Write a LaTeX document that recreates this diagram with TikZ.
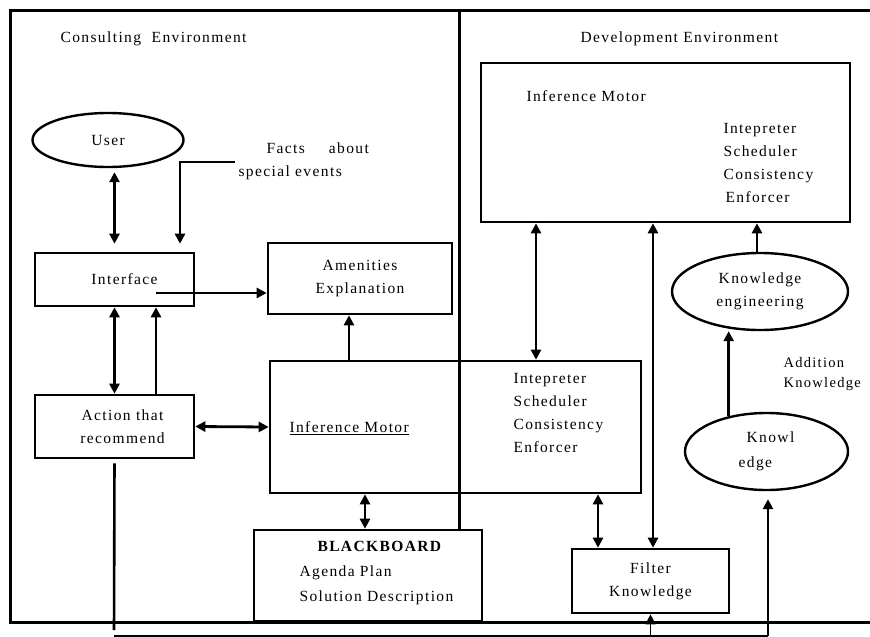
\documentclass[tikz,border=0pt]{standalone}
\usepackage{fontspec}
\setmainfont{Liberation Serif}[LetterSpace=9]
\usetikzlibrary{arrows.meta,shapes.geometric}
\begin{document}
\begin{tikzpicture}[x=1pt,y=-1pt,
	font=\fontsize{15.5}{23}\selectfont,
	box/.style={draw,line width=2.6pt,inner sep=0pt},
	oval/.style={draw,ellipse,line width=2.4pt,inner sep=0pt},
	tip/.style={Triangle[length=10pt,width=10pt]},
	arr/.style={line width=2.8pt,-{Triangle[length=10pt,width=10pt]}},
	dbl/.style={line width=2.8pt,{Triangle[length=10pt,width=10pt]}-{Triangle[length=10pt,width=10pt]}}]
	\useasboundingbox (0,0) rectangle (870,637);
	% the two environments
	\draw[line width=3pt](870,10)--(10,10)--(10,622)--(870,622);
	\draw[line width=3pt](459,10)--(459,530);
	\node[anchor=west] (cons) at (57,39) {Consulting\ \ Environment};
	\node[anchor=west] (devt) at (577,39) {Development Environment};
	% consulting side
	\node[oval,minimum width=151pt,minimum height=54pt] (user) at (108,140) {User};
	\node[anchor=north west,align=left] (facts) at (235,139) {\hspace*{28pt}Facts\hspace*{24pt}about\\special events};
	\node[box,minimum width=159pt,minimum height=53pt] (iface) at (114.5,279.5) {\hspace*{20pt}Interface};
	\node[box,minimum width=184pt,minimum height=71pt,align=center] (amen) at (360,278.5) {Amenities\\Explanation};
	\node[box,minimum width=159pt,minimum height=63pt,align=center] (act) at (114.5,426.5) {\hspace*{16pt}Action that\\\hspace*{16pt}recommend};
	\node[box,minimum width=371pt,minimum height=132pt] (infm) at (455.5,427) {};
	\node[anchor=west] (infml) at (286,428) {\underline{Inference Motor}};
	\node[anchor=north west,align=left] (infmt) at (510,370) {Intepreter\\Scheduler\\Consistency\\Enforcer};
	\node[box,minimum width=228pt,minimum height=91pt] (bb) at (368,575.5) {};
	\node[anchor=north west,align=left,font=\fontsize{15.5}{25}\selectfont] (bbt) at (296,538) {\hspace*{18pt}\textbf{BLACKBOARD}\\Agenda Plan\\Solution Description};
	% development side
	\node[box,minimum width=369pt,minimum height=159pt] (devm) at (665.5,142.5) {};
	\node[anchor=west] (devml) at (523,96) {Inference Motor};
	\node[anchor=north west,align=left] (devmt) at (720,120) {Intepreter\\Scheduler\\Consistency\\\hspace*{2pt}Enforcer};
	\node[oval,minimum width=176pt,minimum height=77pt,align=center] (keng) at (760,291.5) {Knowledge\\engineering};
	\node[oval,minimum width=163pt,minimum height=77pt,align=left] (know) at (766.5,451.5) {\hspace*{8pt}Knowl\\\raisebox{-2pt}{edge}};
	\node[anchor=west,align=left,font=\fontsize{14.5}{20}\selectfont] (addk) at (780,374) {Addition\\Knowledge};
	\node[box,minimum width=157pt,minimum height=64pt,align=center] (filt) at (650.5,581) {Filter\\Knowledge};
	% free ends
	\coordinate (factsin) at (235,162);
	\coordinate (ifout) at (156,293);
	\coordinate (botl) at (114,636);
	\coordinate (botr) at (768,636);
	% connectors
	\draw[dbl,shorten <=4pt,shorten >=8pt](iface.north |- user.south)--(iface.north);
	\draw[arr,shorten >=8pt](factsin)-|([xshift=65.5pt]iface.north);
	\draw[arr](ifout)--(ifout -| amen.west);
	\draw[dbl](iface.south)--(act.north);
	\draw[arr]([xshift=41.5pt]act.north)--([xshift=41.5pt]iface.south);
	\draw[dbl](act.east)--(infm.west);
	\draw[arr]([xshift=-106.5pt]infm.north)--([xshift=-106.5pt]infm.north |- amen.south);
	\draw[dbl]([xshift=-90.5pt]infm.south)--([xshift=-90.5pt]infm.south |- bb.north);
	\draw[dbl]([xshift=-129.5pt]devm.south)--([xshift=-129.5pt]devm.south |- infm.north);
	\draw[dbl]([xshift=-12.5pt]devm.south)--([xshift=-12.5pt]devm.south |- filt.north);
	\draw[dbl]([xshift=142.5pt]infm.south)--([xshift=142.5pt]infm.south |- filt.north);
	\draw[arr]([xshift=-3pt]keng.north)--([xshift=-3pt]keng.north |- devm.south);
	\draw[arr](know.137)--(know.137 |- keng.south);
	% line along the bottom
	\draw[line width=2.6pt,shorten <=4pt,shorten >=6pt](act.south)--(botl);
	\draw[line width=1.2pt](botl)--(botr);
	\draw[arr,shorten >=8pt](botr)--(know.south -| botr);
	\draw[line width=1.4pt,-{Triangle[length=10pt,width=10pt]}](botl -| filt.south)--(filt.south);
\end{tikzpicture}
\end{document}
